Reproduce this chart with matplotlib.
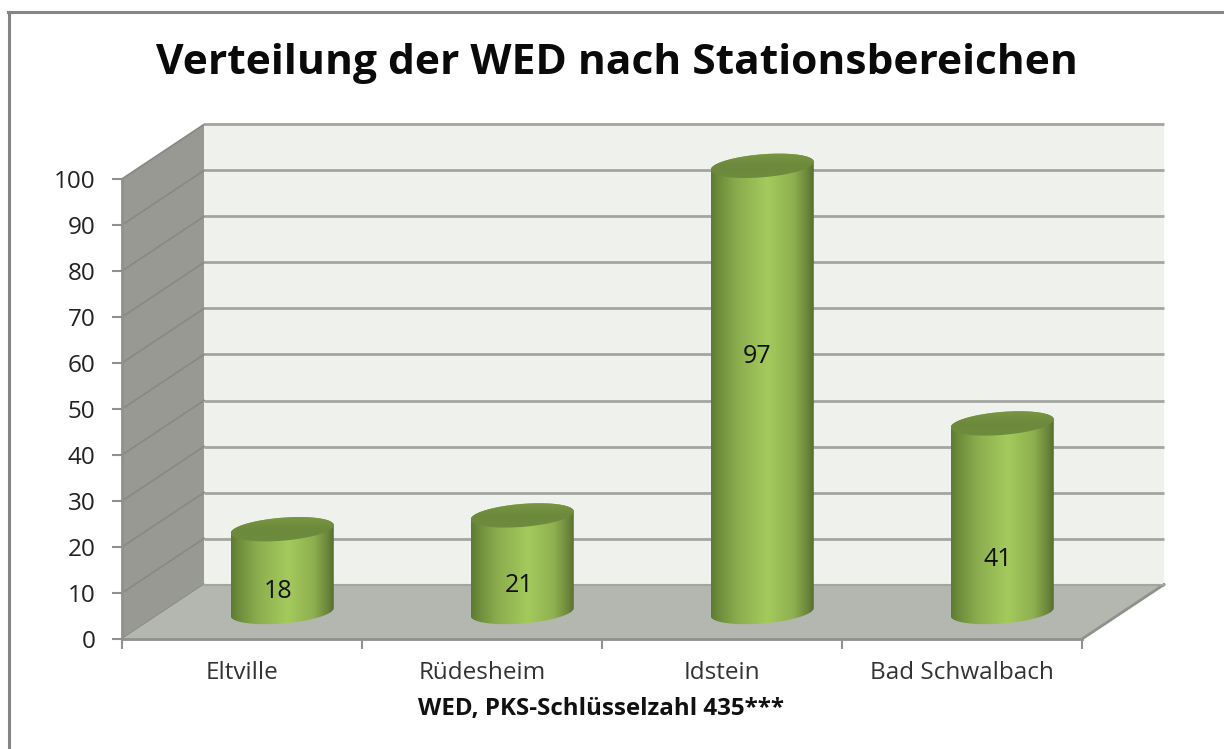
import numpy as np
import matplotlib
matplotlib.use("Agg")
import matplotlib.pyplot as plt
from matplotlib.colors import LinearSegmentedColormap
from matplotlib.patches import Polygon, PathPatch
from matplotlib.lines import Line2D
from matplotlib.path import Path

plt.rcParams["font.family"] = ["Open Sans", "DejaVu Sans"]

# data
stations = ["Eltville", "Rüdesheim", "Idstein", "Bad Schwalbach"]
values = [18, 21, 97, 41]
y_ticks = list(range(0, 101, 10))
title = "Verteilung der WED nach Stationsbereichen"
x_title = "WED, PKS-Schlüsselzahl 435***"

W, H = 1224, 749
fig = plt.figure(figsize=(W / 100, H / 100), dpi=100, facecolor="white")

# axes = the front plane of the 3d box
ax = fig.add_axes([122 / W, 1 - 639 / H, 960 / W, 460 / H])
ax.set_xlim(0, 4)
ax.set_ylim(0, 100)
ax.patch.set_visible(False)

px_x = 240.0   # pixels per category
px_y = 4.6     # pixels per value unit
dx = 82 / px_x   # depth offset
dy = 54.5 / px_y
line_col = "#a3a5a0"

# back wall, floor, side wall
ax.add_patch(Polygon([(dx, dy), (4 + dx, dy), (4 + dx, 100 + dy), (dx, 100 + dy)],
                     closed=True, fc="#eff2ec", ec="none", clip_on=False, zorder=1))
ax.add_patch(Polygon([(0, 0), (dx, dy), (dx, 100 + dy), (0, 100)],
                     closed=True, fc="#979992", ec="none", clip_on=False, zorder=1))
ax.add_patch(Polygon([(0, 0), (4, 0), (4 + dx, dy), (dx, dy)],
                     closed=True, fc="#b4b6b0", ec="none", clip_on=False, zorder=1.5))

# gridlines on wall
for t in y_ticks:
    ax.plot([dx, 4 + dx], [t + dy, t + dy], color=line_col, lw=2, clip_on=False, zorder=1.2,
            solid_capstyle="butt")
    ax.plot([0, dx], [t, t + dy], color="#888a85", lw=1.3, clip_on=False, zorder=1.3)
ax.plot([4, 4 + dx], [0, dy], color="#8f918c", lw=2, clip_on=False, zorder=1.6)
ax.plot([dx, 4 + dx], [dy, dy], color="#a3a5a0", lw=1.5, clip_on=False, zorder=1.6)

# cylinders
body_cmap = LinearSegmentedColormap.from_list("body", [
    (0.0, "#5c7a33"), (0.07, "#6d8c3a"), (0.25, "#8bac4e"), (0.55, "#a4ca5d"),
    (0.8, "#8fb04f"), (0.94, "#6b853b"), (1.0, "#55702f")])
top_cmap = LinearSegmentedColormap.from_list("top", ["#7f9e47", "#6d8a3c", "#6f8d3e"])

half_w = 51.5 / px_x
half_h = 11.5 / px_y
tilt = 4 / px_y
base = 27 / px_y


def ellipse_pts(cx, cy, t):
    return cx + half_w * np.cos(t), cy + half_h * np.sin(t) + tilt * np.cos(t)


centers = np.arange(len(values)) + 0.5 + dx / 2 - 0.003
grad = np.linspace(0, 1, 256).reshape(1, -1)
for i, (c, v) in enumerate(zip(centers, values)):
    top_y = base + v
    t1 = np.linspace(np.pi, 2 * np.pi, 60)
    bx, by = ellipse_pts(c, base, t1)
    t2 = np.linspace(0, np.pi, 60)
    tx, ty = ellipse_pts(c, top_y, t2)
    verts = np.column_stack([np.r_[bx, tx], np.r_[by, ty]])
    im = ax.imshow(grad, cmap=body_cmap, extent=[c - half_w, c + half_w, base - 5, top_y + 5],
                   aspect="auto", zorder=3)
    patch = PathPatch(Path(np.vstack([verts, verts[0]]), closed=True), transform=ax.transData,
                      fc="none", ec="none")
    ax.add_patch(patch)
    im.set_clip_box(fig.bbox)
    im.set_clip_path(patch)

    ex, ey = ellipse_pts(c, top_y, np.linspace(0, 2 * np.pi, 120))
    im2 = ax.imshow(grad.T, cmap=top_cmap, extent=[c - half_w, c + half_w, top_y - half_h - 2, top_y + half_h + 2],
                    aspect="auto", origin="upper", zorder=3.2)
    patch2 = PathPatch(Path(np.column_stack([ex, ey]), closed=True), transform=ax.transData,
                       fc="none", ec="none")
    ax.add_patch(patch2)
    im2.set_clip_box(fig.bbox)
    im2.set_clip_path(patch2)

ax.set_xlim(0, 4)
ax.set_ylim(0, 100)

# value labels, placement
label_x = [278, 519, 757, 998]
label_y = [591, 585, 357, 559]
for s, lx, ly in zip(values, label_x, label_y):
    fig.text(lx / W, 1 - ly / H, str(s), ha="center", va="center", fontsize=18, color="#111111", zorder=5)

# axes
for name in ["top", "right"]:
    ax.spines[name].set_visible(False)
for name in ["left", "bottom"]:
    ax.spines[name].set_color("#8f918c")
    ax.spines[name].set_linewidth(2)
    ax.spines[name].set_zorder(2)
ax.set_yticks(y_ticks)
ax.set_xticks(range(5))
ax.set_xticklabels([])
ax.tick_params(axis="both", length=7, width=1.5, color="#8f918c")
ax.tick_params(axis="y", labelsize=17.5, labelcolor="#222222", pad=12)
ax.set_xticks(np.arange(len(stations)) + 0.5, labels=stations, minor=True)
ax.tick_params(axis="x", which="minor", length=0, labelsize=17.5, labelcolor="#333333", pad=16)

fig.text(601 / W, 1 - 709 / H, x_title, ha="center", va="center", fontsize=17.4, fontweight="bold", color="#111111")
fig.text(617 / W, 1 - 64 / H, title, ha="center", va="center", fontsize=30.6, fontweight="bold", color="#0a0a0a")

# chart area border, only top and left are on the picture
fig.add_artist(Line2D([9 / W, 9 / W], [0, 1 - 12 / H], color="#858585", lw=2.2, transform=fig.transFigure))
fig.add_artist(Line2D([8 / W, 1], [1 - 12 / H, 1 - 12 / H], color="#858585", lw=2.2, transform=fig.transFigure))

fig.savefig("out.png", dpi=100)
